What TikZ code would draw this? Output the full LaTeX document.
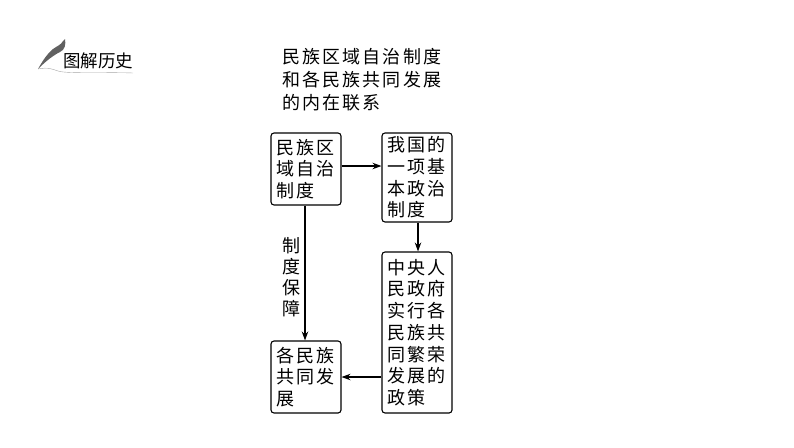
\documentclass[tikz,border=0pt]{standalone}
\usepackage{fontspec}
\usetikzlibrary{arrows.meta}
\newfontfamily\cjk[LetterSpace=12]{Noto Sans CJK SC}
\newfontfamily\cjkhead{Noto Sans CJK SC}
\tikzset{
  textbox/.style={draw,rounded corners=3,line width=1.1pt,inner sep=0pt,align=left,
    font=\cjk\fontsize{18}{21.7}\selectfont,text width=59,minimum width=70},
  plaintext/.style={inner sep=0pt,align=left,font=\cjk\fontsize{18}{22.8}\selectfont},
  link/.style={-{Stealth[length=9,width=6.5]},line width=1.1pt}
}
\begin{document}
\begin{tikzpicture}[x=1pt,y=-1pt]
\useasboundingbox (0,0) rectangle (794,447);
\fill[color=black!62] (38,69) .. controls (43,60) and (48,53) .. (53,49) .. controls (57,46) and (61,45) .. (63,41) -- (65,39) .. controls (66,44) and (65,50) .. (60,52) .. controls (54,55) and (47,60) .. (38,69);
\draw[color=gray!70,thin] (38,69) .. controls (48,67) and (52,69) .. (58,71) .. controls (66,74) and (110,72) .. (133,73);
\node[inner sep=0pt,font=\cjkhead\fontsize{17.5}{20}\selectfont] (title) at (98,61) {图解历史};
\node[plaintext,anchor=north west] (topic) at (282,48.5) {民族区域自治制度\\和各民族共同发展\\的内在联系};
\node[textbox,minimum height=72] (quzhi) at (306,169) {民族区\\域自治\\制度};
\node[textbox,minimum height=89] (jiben) at (417,177.5) {我国的\\一项基\\本政治\\制度};
\node[textbox,minimum height=161] (zhengce) at (417,332.5) {中央人\\民政府\\实行各\\民族共\\同繁荣\\发展的\\政策};
\node[textbox,minimum height=72] (fazhan) at (306,377) {各民族\\共同发\\展};
\node[inner sep=0pt,align=center,font=\cjkhead\fontsize{18}{21}\selectfont] (baozhang) at (291,277) {制\\度\\保\\障};
\draw[link] ([yshift=3]quzhi.east) -- ([yshift=3]quzhi.east -| jiben.west);
\draw[link] ([xshift=1]jiben.south) -- ([xshift=1]zhengce.north);
\draw[link] ([xshift=-1]quzhi.south) -- ([xshift=-1]fazhan.north);
\draw[link] (fazhan.east -| zhengce.west) -- (fazhan.east);
\end{tikzpicture}
\end{document}
